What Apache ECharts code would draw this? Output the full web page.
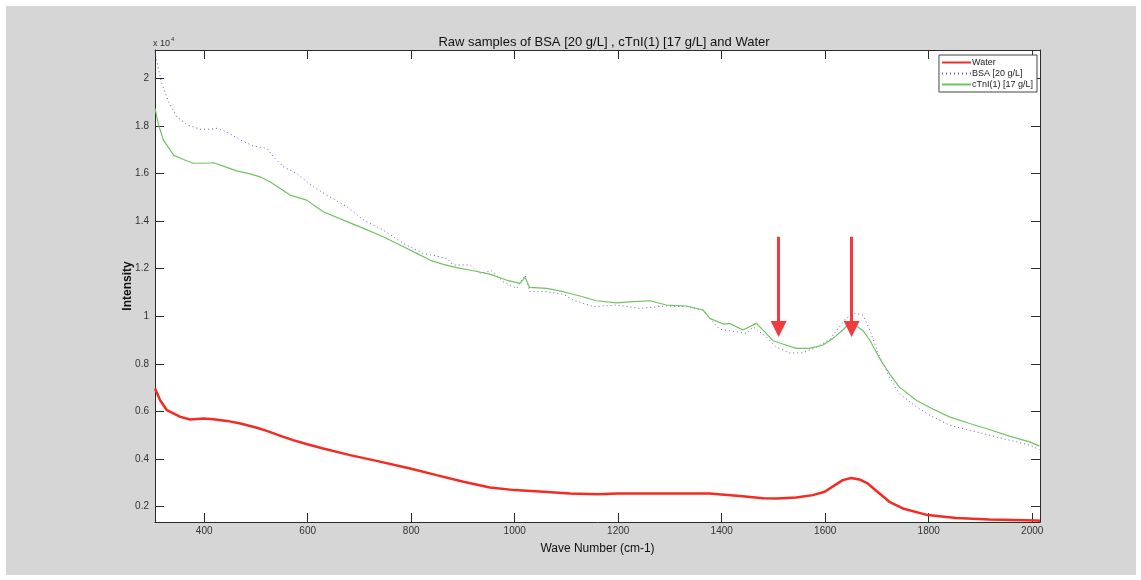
<!DOCTYPE html>
<html>
<head>
<meta charset="utf-8">
<title>Raw samples of BSA, cTnI(1) and Water</title>
<script src="https://cdn.jsdelivr.net/npm/echarts@6/dist/echarts.min.js"></script>
<style>
  html, body { margin: 0; padding: 0; background: #ffffff; }
  #frame { position: absolute; left: 6px; top: 6px; width: 1130px; height: 569px; background: #d6d6d6; }
  #chart { position: absolute; left: 0; top: 0; width: 1141px; height: 580px; }
</style>
</head>
<body>
<div id="frame"></div>
<div id="chart"></div>
<script>
// Raman spectra: wave number (cm-1) and raw intensity (counts)
const waterWave = [305, 315, 328, 354, 373, 399, 418, 444, 470, 502, 521, 553, 572, 599, 630, 682, 733, 798, 849, 901, 952, 1000, 1055, 1107, 1161, 1199, 1274, 1338, 1377, 1399, 1435, 1480, 1506, 1544, 1576, 1599, 1621, 1634, 1650, 1666, 1682, 1705, 1724, 1750, 1798, 1853, 1917, 2007, 2015];
const waterIntensity = [6960, 6470, 6050, 5770, 5660, 5700, 5670, 5600, 5490, 5310, 5180, 4930, 4790, 4620, 4440, 4160, 3920, 3600, 3320, 3040, 2800, 2690, 2620, 2550, 2520, 2550, 2550, 2550, 2550, 2510, 2440, 2350, 2340, 2380, 2480, 2620, 2930, 3110, 3200, 3140, 2970, 2550, 2200, 1920, 1640, 1520, 1450, 1410, 1400];

const bsaWave = [305, 312, 318, 331, 347, 367, 392, 412, 425, 447, 470, 495, 521, 534, 553, 579, 611, 637, 676, 708, 746, 785, 823, 849, 869, 881, 914, 933, 955, 978, 1004, 1020, 1029, 1062, 1094, 1113, 1152, 1197, 1242, 1293, 1332, 1364, 1377, 1396, 1415, 1448, 1461, 1486, 1505, 1531, 1557, 1582, 1608, 1627, 1640, 1657, 1673, 1686, 1705, 1724, 1743, 1776, 1802, 1840, 1879, 1917, 1956, 1995, 2014];
const bsaIntensity = [21120, 20350, 19790, 19020, 18390, 18040, 17860, 17860, 17900, 17710, 17410, 17150, 17060, 16700, 16280, 16000, 15440, 15090, 14600, 14040, 13620, 13060, 12640, 12530, 12430, 12150, 12150, 11800, 11910, 11450, 11170, 11730, 11030, 11030, 10920, 10680, 10400, 10470, 10330, 10430, 10400, 10260, 9910, 9450, 9390, 9280, 9550, 9130, 8710, 8460, 8460, 8690, 9000, 9550, 9910, 10120, 10050, 9420, 8300, 7450, 6750, 6190, 5840, 5420, 5210, 5000, 4790, 4580, 4400];

const ctniWave = [305, 312, 321, 341, 360, 379, 402, 418, 437, 463, 489, 508, 527, 547, 566, 598, 630, 669, 708, 746, 785, 811, 836, 862, 888, 920, 952, 984, 1010, 1020, 1029, 1062, 1094, 1126, 1158, 1197, 1229, 1261, 1293, 1332, 1364, 1377, 1403, 1415, 1441, 1467, 1486, 1499, 1518, 1544, 1569, 1595, 1615, 1634, 1647, 1663, 1673, 1686, 1705, 1724, 1743, 1776, 1802, 1840, 1879, 1917, 1956, 1995, 2014];
const ctniIntensity = [18740, 18040, 17410, 16770, 16590, 16430, 16430, 16450, 16310, 16110, 15980, 15860, 15650, 15370, 15090, 14880, 14390, 14040, 13690, 13340, 12920, 12640, 12360, 12180, 12040, 11910, 11770, 11520, 11380, 11630, 11210, 11170, 11030, 10850, 10650, 10560, 10610, 10650, 10470, 10430, 10260, 9910, 9670, 9700, 9420, 9700, 9280, 8970, 8830, 8650, 8650, 8780, 9070, 9420, 9700, 9550, 9390, 9000, 8230, 7590, 7030, 6470, 6160, 5770, 5490, 5240, 4960, 4720, 4540];

// Arrows marking the two bands of interest (wave number, start and end intensity)
const arrowWave = [1510, 1651];
const arrowFrom = 13340;
const arrowTo = 9460;

// Axis ranges and tick values
const xRange = [305, 2015];
const yRange = [1350, 21190];
const xTicks = [400, 600, 800, 1000, 1200, 1400, 1600, 1800, 2000];
const yTicks = [2000, 4000, 6000, 8000, 10000, 12000, 14000, 16000, 18000, 20000];

const zip = (xs, ys) => xs.map((x, i) => [x, ys[i]]);
const FONT = 'Liberation Sans, Arial, sans-serif';

const chart = echarts.init(document.getElementById('chart'), null, { renderer: 'canvas' });

const axisLineStyle = { color: '#2b2b2b', width: 1 };
const tickStyle = { show: true, inside: true, length: 9, lineStyle: { color: '#2b2b2b', width: 1 } };

chart.setOption({
  animation: false,
  backgroundColor: 'transparent',
  textStyle: { fontFamily: FONT },
  title: {
    text: 'Raw samples of BSA [20 g/L] , cTnI(1) [17 g/L] and Water',
    left: 599,
    top: 31,
    textAlign: 'center',
    textStyle: { fontFamily: FONT, fontSize: 13, fontWeight: 'normal', color: '#111' }
  },
  graphic: [{
    type: 'text',
    left: 153,
    top: 36,
    style: {
      text: '{a|x 10}{b|4}',
      rich: {
        a: { fontFamily: FONT, fontSize: 9, fill: '#333', verticalAlign: 'bottom' },
        b: { fontFamily: FONT, fontSize: 6, fill: '#333', verticalAlign: 'top', padding: [0, 0, 6, 1] }
      }
    }
  }],
  legend: {
    orient: 'vertical',
    right: 104,
    top: 55,
    itemWidth: 29,
    itemHeight: 10,
    itemGap: 2,
    padding: [3, 4, 3, 2],
    backgroundColor: '#ffffff',
    borderColor: '#444',
    borderWidth: 1,
    borderRadius: 0,
    itemStyle: { opacity: 0 },
    textStyle: { fontFamily: FONT, fontSize: 9, color: '#222', padding: [0, 0, 0, -4] },
    data: ['Water', 'BSA [20 g/L]', 'cTnI(1) [17 g/L]']
  },
  grid: {
    left: 155, right: 101, top: 50, bottom: 58,
    show: true, backgroundColor: '#ffffff', borderWidth: 0
  },
  xAxis: [{
    type: 'value',
    min: xRange[0], max: xRange[1],
    name: 'Wave Number (cm-1)',
    nameLocation: 'middle',
    nameGap: 21,
    nameTextStyle: { fontFamily: FONT, fontSize: 12, color: '#111' },
    axisLine: { show: true, lineStyle: axisLineStyle },
    axisTick: Object.assign({ customValues: xTicks }, tickStyle),
    axisLabel: { customValues: xTicks, fontFamily: FONT, fontSize: 10, color: '#333', margin: 4, formatter: v => String(v) },
    splitLine: { show: false }
  }, {
    type: 'value',
    position: 'top',
    min: xRange[0], max: xRange[1],
    axisLine: { show: true, lineStyle: axisLineStyle },
    axisTick: Object.assign({ customValues: xTicks }, tickStyle),
    axisLabel: { show: false, customValues: xTicks },
    splitLine: { show: false }
  }],
  yAxis: [{
    type: 'value',
    min: yRange[0], max: yRange[1],
    name: 'Intensity',
    nameLocation: 'middle',
    nameGap: 21,
    nameMoveOverlap: false,
    nameTextStyle: { fontFamily: FONT, fontSize: 12, fontWeight: 'bold', color: '#111' },
    axisLine: { show: true, lineStyle: axisLineStyle },
    axisTick: Object.assign({ customValues: yTicks }, tickStyle),
    axisLabel: {
      customValues: yTicks,
      fontFamily: FONT, fontSize: 10, color: '#333', margin: 6,
      formatter: v => String(+(v / 10000).toFixed(1))
    },
    splitLine: { show: false }
  }, {
    type: 'value',
    position: 'right',
    min: yRange[0], max: yRange[1],
    axisLine: { show: true, lineStyle: axisLineStyle },
    axisTick: Object.assign({ customValues: yTicks }, tickStyle),
    axisLabel: { show: false, customValues: yTicks },
    splitLine: { show: false }
  }],
  series: [{
    name: 'Water',
    type: 'line',
    data: zip(waterWave, waterIntensity),
    showSymbol: false,
    symbol: 'none',
    color: '#f52a22',
    lineStyle: { color: '#f52a22', width: 2.5 },
    z: 3,
    markLine: {
      silent: true,
      z: 10,
      symbol: ['none', 'triangle'],
      symbolSize: [16, 16],
      label: { show: false },
      emphasis: { disabled: true },
      lineStyle: { color: '#f23a3f', width: 3, type: 'solid' },
      data: arrowWave.map(w => [{ coord: [w, arrowFrom] }, { coord: [w, arrowTo] }])
    }
  }, {
    name: 'BSA [20 g/L]',
    type: 'line',
    data: zip(bsaWave, bsaIntensity),
    showSymbol: false,
    symbol: 'none',
    color: '#5b5bd6',
    lineStyle: { color: '#5b5bd6', width: 1, type: [1, 3] },
    z: 2
  }, {
    name: 'cTnI(1) [17 g/L]',
    type: 'line',
    data: zip(ctniWave, ctniIntensity),
    showSymbol: false,
    symbol: 'none',
    color: '#72c25f',
    lineStyle: { color: '#72c25f', width: 1.2 },
    z: 2
  }]
});
</script>
</body>
</html>
